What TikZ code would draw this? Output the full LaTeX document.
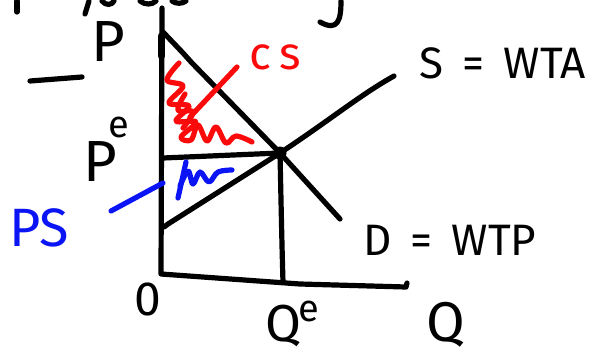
\documentclass[tikz,border=0pt]{standalone}
\usepackage{fontspec}
\setmainfont{Fira Sans}
\definecolor{inkred}{RGB}{250,10,10}
\definecolor{inkblue}{RGB}{10,20,245}
\begin{document}
\begin{tikzpicture}[x=0.5pt,y=-0.5pt,line cap=round,line join=round,
  ink/.style={line width=2.6pt},
  redink/.style={ink,draw=inkred},
  blueink/.style={ink,draw=inkblue},
  lbl/.style={inner sep=0pt,anchor=center,font=\fontsize{24}{24}\selectfont},
  eqdot/.style={circle,fill=black,inner sep=0pt,minimum size=6.5pt}]
\useasboundingbox (0,0) rectangle (600,360);
% coordinates of the graph
\coordinate (ytop) at (162,8);
\coordinate (O) at (161,274);
\coordinate (xmid) at (300,284);
\coordinate (xend) at (406,287);
\coordinate (dtop) at (163,32);
\coordinate (dend) at (340,219);
\coordinate (sstart) at (164,227);
\coordinate (send) at (394,76);
\coordinate (pe) at (163,158);
\coordinate (qe) at (283,282);
\node[eqdot] (E) at (280,153) {};
% axes
\draw[ink] (ytop) -- (O) -- (xmid) -- (xend) -- ++(1,-4);
\draw[line width=3.6pt] (161.5,36) -- (161.5,56);
% demand
\draw[ink] (dtop) -- (183,53) -- (192,63) -- (E.center) -- (dend);
% supply
\draw[ink] (sstart) -- ++(4,-3) -- (E.center) .. controls (330,120) and (360,95) .. (send);
% p^e and Q^e lines
\draw[ink] (pe) -- (E.center);
\draw[ink] (E.center) .. controls (281,200) and (282,250) .. (qe);
% labels
\node[lbl,font=\fontsize{29}{29}\selectfont] (P) at (108,42) {P};
\draw[ink] (30,81) -- (82,77);
\node[lbl,font=\fontsize{29}{29}\selectfont] (Pe) at (100,162) {P};
\node[lbl,font=\fontsize{19}{19}\selectfont] (Pesup) at (119,127) {e};
\node[lbl,text=inkblue,font=\fontsize{27}{27}\selectfont] (PS) at (39,228) {PS};
\node[lbl,text=inkred,font=\fontsize{23}{23}\selectfont] (CS) at (275,57) {c\,s};
\node[lbl,font=\fontsize{22}{22}\selectfont] (Slab) at (503,63) {S\, =\, WTA};
\node[lbl,font=\fontsize{22}{22}\selectfont] (Dlab) at (450,240) {D\, =\, WTP};
\node[lbl] (zero) at (148,299) {0};
\node[lbl,font=\fontsize{26}{26}\selectfont] (Qe) at (283,326) {Q};
\node[lbl,font=\fontsize{19}{19}\selectfont] (Qesup) at (309,311) {e};
\node[lbl,font=\fontsize{28}{28}\selectfont] (Q) at (446,325) {Q};
% leader lines
\coordinate (psa) at (111,211);
\coordinate (psb) at (163,183);
\draw[blueink] (psa) -- (psb);
\coordinate (csa) at (190,117);
\coordinate (csb) at (237,67);
\draw[redink] (csa) -- (csb);
% CS scribble
\draw[redink] plot[smooth,tension=0.6] coordinates {(179,63) (167,80) (183,86) (169,103) (189,106) (176,121) (196,122) (181,137) (191,140) (198,125) (207,141) (216,127) (226,143) (236,136) (252,142)};
\draw[redink] plot[smooth,tension=0.6] coordinates {(185,94) (178,110) (193,112) (183,128)};
% PS scribble
\draw[blueink] (186,162) -- (178,198);
\draw[blueink] plot[smooth,tension=0.6] coordinates {(180,186) (188,171) (193,184) (200,172) (209,182) (218,172) (232,170)};
% cut-off title fragments at the top
\draw[ink] (17,1) -- (17,12);
\draw[ink] (85,14) -- (89,1);
\draw[ink] (102,1) .. controls (106,6) and (112,5) .. (114,1);
\draw[ink] (140,1) .. controls (145,5) and (152,5) .. (156,1);
\draw[ink] (172,1) .. controls (176,4) and (182,4) .. (186,1);
\draw[ink] (341,1) .. controls (341,20) and (338,32) .. (320,22);
\end{tikzpicture}
\end{document}
